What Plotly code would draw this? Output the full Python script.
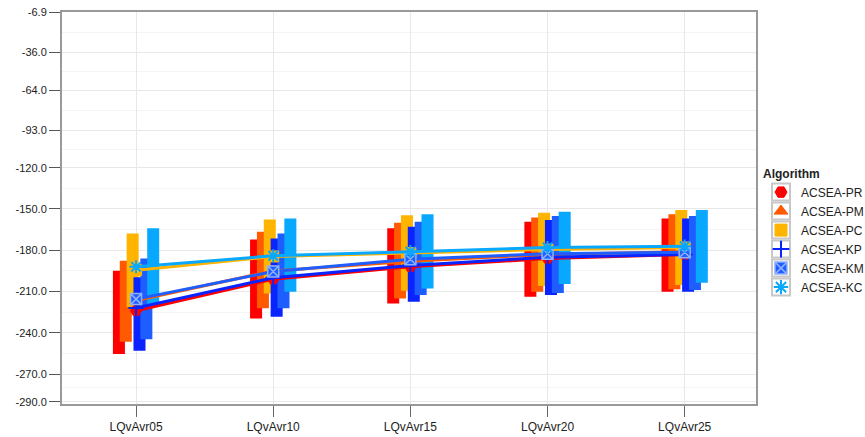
import plotly.graph_objects as go

# Benchmark levels
categories = ["LQvAvr05", "LQvAvr10", "LQvAvr15", "LQvAvr20", "LQvAvr25"]

# Mean objective per algorithm
pr_mean = [-224.0, -201.0, -192.0, -186.0, -183.0]
pm_mean = [-216.5, -195.0, -188.0, -183.0, -181.0]
pc_mean = [-194.5, -184.5, -182.0, -179.5, -178.0]
kp_mean = [-222.0, -200.0, -191.0, -185.0, -183.0]
km_mean = [-215.5, -195.5, -186.5, -182.5, -181.5]
kc_mean = [-192.0, -184.0, -181.0, -178.0, -177.0]

# Spread per algorithm: upper and lower ends of each band
pr_high = [-194.9, -172.1, -164.1, -159.3, -156.9]
pr_low = [-255.4, -229.5, -218.6, -213.8, -210.2]
pm_high = [-187.6, -166.6, -160.1, -156.2, -153.8]
pm_low = [-246.4, -222.2, -215.0, -210.2, -208.4]
pc_high = [-167.8, -157.6, -154.5, -152.8, -150.8]
pc_low = [-221.3, -211.5, -209.5, -206.0, -205.3]
kp_high = [-199.7, -171.4, -163.0, -158.1, -156.9]
kp_low = [-253.0, -228.3, -217.4, -212.5, -210.2]
km_high = [-185.9, -167.8, -159.3, -155.2, -155.2]
km_low = [-244.7, -222.2, -212.5, -211.0, -208.9]
kc_high = [-164.1, -156.9, -153.8, -152.1, -150.8]
kc_low = [-220.0, -210.2, -207.7, -204.6, -203.6]

names = ["ACSEA-PR", "ACSEA-PM", "ACSEA-PC", "ACSEA-KP", "ACSEA-KM", "ACSEA-KC"]
means = [pr_mean, pm_mean, pc_mean, kp_mean, km_mean, kc_mean]
highs = [pr_high, pm_high, pc_high, kp_high, km_high, kc_high]
lows = [pr_low, pm_low, pc_low, kp_low, km_low, kc_low]

colors = ["#FF0000", "#FF5A00", "#FFB400", "#0A24FF", "#1E5EFF", "#08A8FF"]
symbols = ["hexagon2", "triangle-up", "square", "cross-thin-open", "square-x", "asterisk-open"]

y_ticks = [-6.9, -36.0, -64.0, -93.0, -120.0, -150.0, -180.0, -210.0, -240.0, -270.0, -290.0]
y_tick_text = ["-6.9", "-36.0", "-64.0", "-93.0", "-120.0", "-150.0", "-180.0",
               "-210.0", "-240.0", "-270.0", "-290.0"]

# Plot-area geometry in pixels (used for legend decoration)
W, H = 865, 437
ML, MR, MT, MB = 62, 109, 12, 33
PW, PH = W - ML - MR, H - MT - MB


def px_x(p):
    return (p - ML) / PW


def px_y(p):
    return (H - MB - p) / PH


fig = go.Figure()

bar_w = 0.0876
step = 0.05

# Spread bands as floating bars, staggered within each category
for i, (hi, lo) in enumerate(zip(highs, lows)):
    span = [h - l for h, l in zip(hi, lo)]
    fig.add_trace(go.Bar(
        x=categories, y=span, base=lo,
        width=bar_w, offset=(i - 2.5) * step - bar_w / 2,
        marker=dict(color=colors[i], line=dict(width=0)),
        showlegend=False, hoverinfo="skip",
    ))


def marker_style(i, size):
    mk = dict(symbol=symbols[i], size=size, color=colors[i],
              line=dict(width=2 if "open" in symbols[i] else 1, color=colors[i]))
    if symbols[i] == "square-x":
        mk["line"] = dict(width=1.5, color="#8FB0FF")
    return mk


# Mean lines
for i, m in enumerate(means):
    fig.add_trace(go.Scatter(
        x=categories, y=m, mode="lines+markers",
        line=dict(color=colors[i], width=3),
        marker=marker_style(i, 11), showlegend=False,
    ))

# Legend entries (markers only)
for i, n in enumerate(names):
    fig.add_trace(go.Scatter(x=[None], y=[None], mode="markers", name=n,
                             marker=marker_style(i, 12)))

# Gray frames behind the legend symbols
leg_left = 761
leg_top = 162
sym_x = leg_left + 20
item0 = leg_top + 30
item_step = 19.0
shapes = []
for k in range(len(names)):
    cy = item0 + k * item_step
    shapes.append(dict(
        type="rect", xref="paper", yref="paper",
        x0=px_x(sym_x - 9), x1=px_x(sym_x + 9),
        y0=px_y(cy + 8.5), y1=px_y(cy - 8.5),
        line=dict(color="#C8C8C8", width=2), fillcolor="white", layer="above",
    ))

minor_vals = [(a + b) / 2 for a, b in zip(y_ticks[:-1], y_ticks[1:])]

fig.update_layout(
    width=W, height=H,
    margin=dict(l=ML, r=MR, t=MT, b=MB, autoexpand=False),
    paper_bgcolor="white", plot_bgcolor="white",
    barmode="overlay",
    shapes=shapes,
    font=dict(family="Liberation Sans, Arial, sans-serif", size=11, color="#333"),
    legend=dict(
        title=dict(text="<b>Algorithm</b>", font=dict(size=12, color="#222")),
        x=px_x(leg_left), xanchor="left", y=px_y(leg_top), yanchor="top",
        itemwidth=30, font=dict(size=12, color="#222"),
        bgcolor="rgba(0,0,0,0)", tracegroupgap=0,
    ),
    xaxis=dict(
        type="category", range=[-0.54, 4.52],
        showgrid=True, gridcolor="#e8e8e8", gridwidth=1,
        ticks="outside", ticklen=11, tickcolor="#666",
        showline=True, linecolor="#999", linewidth=2, mirror=True,
        tickfont=dict(size=12, color="#222"), zeroline=False,
    ),
    yaxis=dict(
        range=[-291.7, -6.9],
        tickmode="array", tickvals=y_ticks, ticktext=y_tick_text,
        showgrid=True, gridcolor="#e8e8e8", gridwidth=1,
        minor=dict(tickmode="array", tickvals=minor_vals, showgrid=True,
                   gridcolor="#f4f4f4", gridwidth=1, ticks=""),
        ticks="outside", ticklen=11, tickcolor="#555",
        showline=True, linecolor="#999", linewidth=2, mirror=True,
        tickfont=dict(size=11, color="#222"), zeroline=False,
    ),
)

fig.write_html("out.html")
